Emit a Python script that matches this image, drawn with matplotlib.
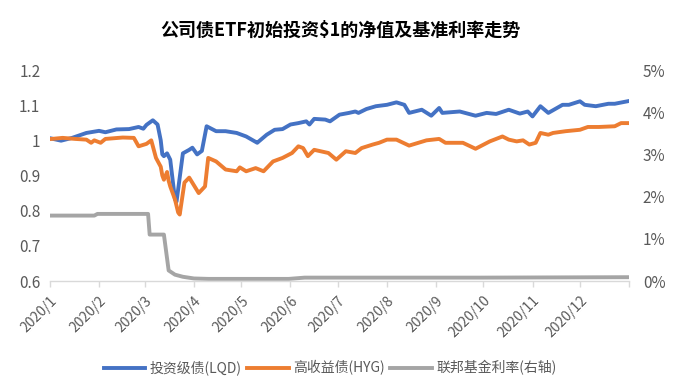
import matplotlib
matplotlib.use("Agg")
import matplotlib.pyplot as plt
import matplotlib.dates as mdates
from matplotlib.ticker import FuncFormatter, FixedLocator
import pandas as pd

plt.rcParams['font.family'] = ['Noto Sans CJK SC', 'DejaVu Sans']

title = "公司债ETF初始投资$1的净值及基准利率走势"
series_names = ["投资级债(LQD)", "高收益债(HYG)", "联邦基金利率(右轴)"]
month_labels = ["2020/1", "2020/2", "2020/3", "2020/4", "2020/5", "2020/6",
                "2020/7", "2020/8", "2020/9", "2020/10", "2020/11", "2020/12", ""]

lqd_dates = ["2020-01-02", "2020-01-08", "2020-01-15", "2020-01-24", "2020-02-01",
             "2020-02-05", "2020-02-12", "2020-02-20", "2020-02-26", "2020-02-29",
             "2020-03-02", "2020-03-06", "2020-03-09", "2020-03-11", "2020-03-12",
             "2020-03-13", "2020-03-15", "2020-03-17", "2020-03-20", "2020-03-21",
             "2020-03-25", "2020-03-27", "2020-03-29", "2020-03-31", "2020-04-03",
             "2020-04-06", "2020-04-09", "2020-04-15", "2020-04-21", "2020-04-28",
             "2020-05-04", "2020-05-11", "2020-05-12", "2020-05-17", "2020-05-22",
             "2020-05-27", "2020-06-01", "2020-06-06", "2020-06-11", "2020-06-13",
             "2020-06-16", "2020-06-23", "2020-06-26", "2020-07-02", "2020-07-08",
             "2020-07-12", "2020-07-14", "2020-07-19", "2020-07-25", "2020-08-01",
             "2020-08-07", "2020-08-12", "2020-08-15", "2020-08-23", "2020-08-29",
             "2020-09-03", "2020-09-05", "2020-09-16", "2020-09-26", "2020-10-03",
             "2020-10-09", "2020-10-17", "2020-10-24", "2020-10-29", "2020-11-01",
             "2020-11-06", "2020-11-11", "2020-11-20", "2020-11-24", "2020-12-01",
             "2020-12-04", "2020-12-11", "2020-12-19", "2020-12-23", "2020-12-31"]
lqd_values = [1.005, 0.999, 1.007, 1.021, 1.027,
              1.023, 1.031, 1.032, 1.038, 1.033,
              1.044, 1.057, 1.045, 1.000, 0.960,
              0.955, 0.963, 0.945, 0.832, 0.826,
              0.963, 0.968, 0.973, 0.979, 0.960,
              0.970, 1.040, 1.026, 1.026, 1.021,
              1.011, 0.993, 0.997, 1.016, 1.030,
              1.032, 1.045, 1.049, 1.054, 1.045,
              1.061, 1.059, 1.054, 1.073, 1.078,
              1.082, 1.078, 1.089, 1.097, 1.101,
              1.108, 1.101, 1.078, 1.087, 1.070,
              1.092, 1.078, 1.082, 1.070, 1.078,
              1.075, 1.087, 1.076, 1.082, 1.068,
              1.097, 1.078, 1.101, 1.101, 1.111,
              1.101, 1.097, 1.104, 1.104, 1.111]

hyg_dates = ["2020-01-02", "2020-01-09", "2020-01-17", "2020-01-24", "2020-01-27",
             "2020-01-29", "2020-02-02", "2020-02-05", "2020-02-16", "2020-02-23",
             "2020-02-26", "2020-03-02", "2020-03-05", "2020-03-08", "2020-03-11",
             "2020-03-12", "2020-03-13", "2020-03-15", "2020-03-16", "2020-03-17",
             "2020-03-20", "2020-03-22", "2020-03-23", "2020-03-26", "2020-03-29",
             "2020-04-01", "2020-04-04", "2020-04-08", "2020-04-10", "2020-04-15",
             "2020-04-21", "2020-04-28", "2020-04-30", "2020-05-04", "2020-05-10",
             "2020-05-15", "2020-05-21", "2020-05-27", "2020-06-02", "2020-06-06",
             "2020-06-09", "2020-06-12", "2020-06-16", "2020-06-25", "2020-06-30",
             "2020-07-06", "2020-07-12", "2020-07-16", "2020-07-23", "2020-07-27",
             "2020-08-01", "2020-08-07", "2020-08-15", "2020-08-26", "2020-09-03",
             "2020-09-07", "2020-09-18", "2020-09-26", "2020-10-05", "2020-10-13",
             "2020-10-17", "2020-10-22", "2020-10-26", "2020-10-30", "2020-11-03",
             "2020-11-06", "2020-11-11", "2020-11-14", "2020-11-22", "2020-12-01",
             "2020-12-06", "2020-12-13", "2020-12-23", "2020-12-27", "2020-12-31"]
hyg_values = [1.004, 1.007, 1.004, 1.002, 0.993,
              1.000, 0.993, 1.004, 1.008, 1.007,
              0.983, 0.990, 1.000, 0.950, 0.925,
              0.900, 0.888, 0.910, 0.885, 0.869,
              0.832, 0.795, 0.789, 0.880, 0.894,
              0.872, 0.850, 0.869, 0.950, 0.940,
              0.917, 0.912, 0.923, 0.912, 0.921,
              0.912, 0.940, 0.950, 0.964, 0.983,
              0.978, 0.955, 0.973, 0.964, 0.945,
              0.969, 0.964, 0.978, 0.988, 0.993,
              1.002, 1.002, 0.985, 1.000, 1.004,
              0.993, 0.993, 0.976, 0.997, 1.011,
              1.002, 0.997, 1.000, 0.988, 0.993,
              1.021, 1.016, 1.021, 1.026, 1.030,
              1.038, 1.038, 1.040, 1.049, 1.049]

ffr_dates = ["2020-01-01", "2020-01-29", "2020-01-31", "2020-03-03", "2020-03-04",
             "2020-03-13", "2020-03-16", "2020-03-18", "2020-03-20", "2020-03-25",
             "2020-04-01", "2020-04-10", "2020-05-31", "2020-06-10", "2020-09-30",
             "2020-12-31"]
ffr_values = [1.55, 1.55, 1.59, 1.59, 1.10,
              1.10, 0.25, 0.20, 0.15, 0.10,
              0.06, 0.05, 0.05, 0.08, 0.08,
              0.09]

BLUE = "#4472C4"
ORANGE = "#ED7D31"
GRAY = "#A5A5A5"
TXT = "#595959"

fig = plt.figure(figsize=(7.0, 3.91), dpi=100)
ax = fig.add_axes([50 / 700, 1 - 281 / 391, (629 - 50) / 700, 211 / 391])
ax2 = ax.twinx()

l1, = ax.plot(pd.to_datetime(lqd_dates), lqd_values, color=BLUE, lw=2.8,
              solid_joinstyle='round', label=series_names[0], zorder=3)
l2, = ax.plot(pd.to_datetime(hyg_dates), hyg_values, color=ORANGE, lw=2.8,
              solid_joinstyle='round', label=series_names[1], zorder=3)
l3, = ax2.plot(pd.to_datetime(ffr_dates), ffr_values, color=GRAY, lw=2.8,
               solid_joinstyle='round', label=series_names[2])

ax.set_zorder(ax2.get_zorder() + 1)
ax.patch.set_visible(False)

ax.set_xlim(pd.Timestamp("2020-01-01"), pd.Timestamp("2021-01-01"))
ax.set_ylim(0.6, 1.2)
ax2.set_ylim(0, 5)

month_ticks = pd.date_range("2020-01-01", "2021-01-01", freq="MS")
ax.xaxis.set_major_locator(FixedLocator(mdates.date2num(month_ticks)))
ax.set_xticklabels(month_labels, rotation=45, ha='right', rotation_mode='anchor',
                   fontsize=10, color=TXT)

ax.set_yticks([0.6, 0.7, 0.8, 0.9, 1.0, 1.1, 1.2])
ax.yaxis.set_major_formatter(FuncFormatter(lambda v, p: f"{v:g}"))
ax2.set_yticks([0, 1, 2, 3, 4, 5])
ax2.yaxis.set_major_formatter(FuncFormatter(lambda v, p: f"{v:g}%"))

for a in (ax, ax2):
    for s in a.spines.values():
        s.set_visible(False)
ax.spines['bottom'].set_visible(True)
ax.spines['bottom'].set_color("#D9D9D9")
ax.spines['bottom'].set_linewidth(1.0)

ax.tick_params(axis='x', length=4, width=1, color="#D9D9D9", pad=5)
ax.tick_params(axis='y', length=0, pad=7, labelsize=11, labelcolor=TXT)
ax2.tick_params(axis='y', length=0, pad=10, labelsize=11, labelcolor=TXT)

fig.text(340 / 700, 1 - 30 / 391, title, ha='center', va='center',
         fontsize=13, fontweight='bold', color='black')

fig.legend(handles=[l1, l2, l3], loc='center', bbox_to_anchor=(330 / 700, 1 - 368 / 391),
           ncol=3, frameon=False, fontsize=10, handlelength=3.0, handletextpad=0.3,
           columnspacing=0.4, labelcolor=TXT)

fig.savefig("out.png", dpi=100)
